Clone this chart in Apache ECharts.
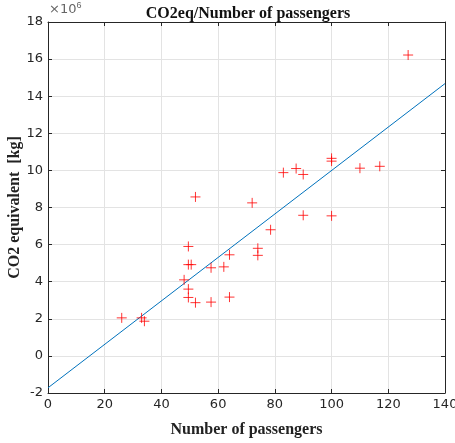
<!DOCTYPE html>
<html>
<head>
<meta charset="utf-8">
<script src="https://cdn.jsdelivr.net/npm/echarts@6/dist/echarts.min.js"></script>
<style>
  html, body { margin: 0; padding: 0; background: #fff; }
  #chart { width: 455px; height: 443px; }
</style>
</head>
<body>
<div id="chart"></div>
<script>
// Passengers per flight and CO2 equivalent (in units of 10^6 kg)
const passengers = [26, 33, 34, 48, 49.5, 49.5, 50.5, 49.5, 49.5, 52, 52, 57.5, 57.5, 62, 64, 64, 72, 74, 74, 78.5, 83, 87.5, 90, 90, 100, 100, 100, 110, 117, 127];
const co2Millions = [2.05, 2.05, 1.87, 4.1, 5.9, 4.92, 4.92, 3.6, 3.15, 8.57, 2.87, 2.9, 4.75, 4.8, 5.45, 3.17, 8.25, 5.8, 5.42, 6.8, 9.88, 10.1, 9.78, 7.58, 10.65, 10.5, 7.55, 10.12, 10.22, 16.22];

// Least-squares trend line endpoints
const fitX = [0, 140];
const fitY = [-1.72, 14.68];

// Axis ticks
const xTicks = { min: 0, max: 140, step: 20 };
const yTicks = { min: -2, max: 18, step: 2 };

const axisColor = '#262626';
const gridColor = '#e3e3e3';
const serif = '"Liberation Serif", "DejaVu Serif", serif';
const sans = '"DejaVu Sans", sans-serif';

const plus = 'path://M0,5L10,5M5,0L5,10';

const chart = echarts.init(document.getElementById('chart'), null, { renderer: 'canvas' });

const commonTick = { show: true, inside: true, length: 4, lineStyle: { color: axisColor, width: 1 } };

chart.setOption({
  animation: false,
  backgroundColor: '#ffffff',
  title: {
    text: 'CO2eq/Number of passengers',
    left: 243, top: 1, textAlign: 'center',
    textStyle: { fontFamily: serif, fontWeight: 'bold', fontSize: 16, color: '#111' }
  },
  grid: { left: 48, right: 10, top: 22, bottom: 50, containLabel: false, outerBoundsMode: 'none' },
  xAxis: [{
    type: 'value', min: xTicks.min, max: xTicks.max, interval: xTicks.step,
    name: 'Number of passengers', nameLocation: 'middle', nameGap: 29, nameMoveOverlap: false,
    nameTextStyle: { fontFamily: serif, fontWeight: 'bold', fontSize: 16, color: '#222' },
    axisLine: { show: true, onZero: false, lineStyle: { color: axisColor, width: 1 } },
    axisTick: commonTick,
    axisLabel: { fontFamily: sans, fontSize: 13, color: axisColor, margin: 5 },
    splitLine: { show: true, lineStyle: { color: gridColor, width: 1 } }
  }, {
    type: 'value', position: 'top', min: xTicks.min, max: xTicks.max, interval: xTicks.step,
    axisLine: { show: true, onZero: false, lineStyle: { color: axisColor, width: 1 } },
    axisTick: commonTick, axisLabel: { show: false }, splitLine: { show: false }
  }],
  yAxis: [{
    type: 'value', min: yTicks.min, max: yTicks.max, interval: yTicks.step,
    name: 'CO2 equivalent  [kg]', nameLocation: 'middle', nameGap: 25, nameMoveOverlap: false,
    nameTextStyle: { fontFamily: serif, fontWeight: 'bold', fontSize: 16, color: '#222' },
    axisLine: { show: true, onZero: false, lineStyle: { color: axisColor, width: 1 } },
    axisTick: commonTick,
    axisLabel: { fontFamily: sans, fontSize: 13, color: axisColor, margin: 5 },
    splitLine: { show: true, lineStyle: { color: gridColor, width: 1 } }
  }, {
    type: 'value', position: 'right', min: yTicks.min, max: yTicks.max, interval: yTicks.step,
    axisLine: { show: true, onZero: false, lineStyle: { color: axisColor, width: 1 } },
    axisTick: commonTick, axisLabel: { show: false }, splitLine: { show: false }
  }],
  graphic: [{
    type: 'text', left: 49, top: 1,
    style: {
      text: '×10{s|6}',
      font: '13px "DejaVu Sans", sans-serif',
      fill: '#666',
      rich: { s: { fontSize: 9, verticalAlign: 'top', padding: [0, 0, 8, 0], fill: '#666' } }
    }
  }],
  series: [{
    type: 'line',
    data: fitX.map((x, i) => [x, fitY[i]]),
    symbol: 'none',
    lineStyle: { color: '#0072BD', width: 1 },
    z: 2
  }, {
    type: 'scatter',
    data: passengers.map((p, i) => [p, co2Millions[i]]),
    symbol: plus,
    symbolSize: 10,
    itemStyle: { color: 'rgba(0,0,0,0)', borderColor: '#ff0000', borderWidth: 1 },
    z: 3
  }]
});
</script>
</body>
</html>
